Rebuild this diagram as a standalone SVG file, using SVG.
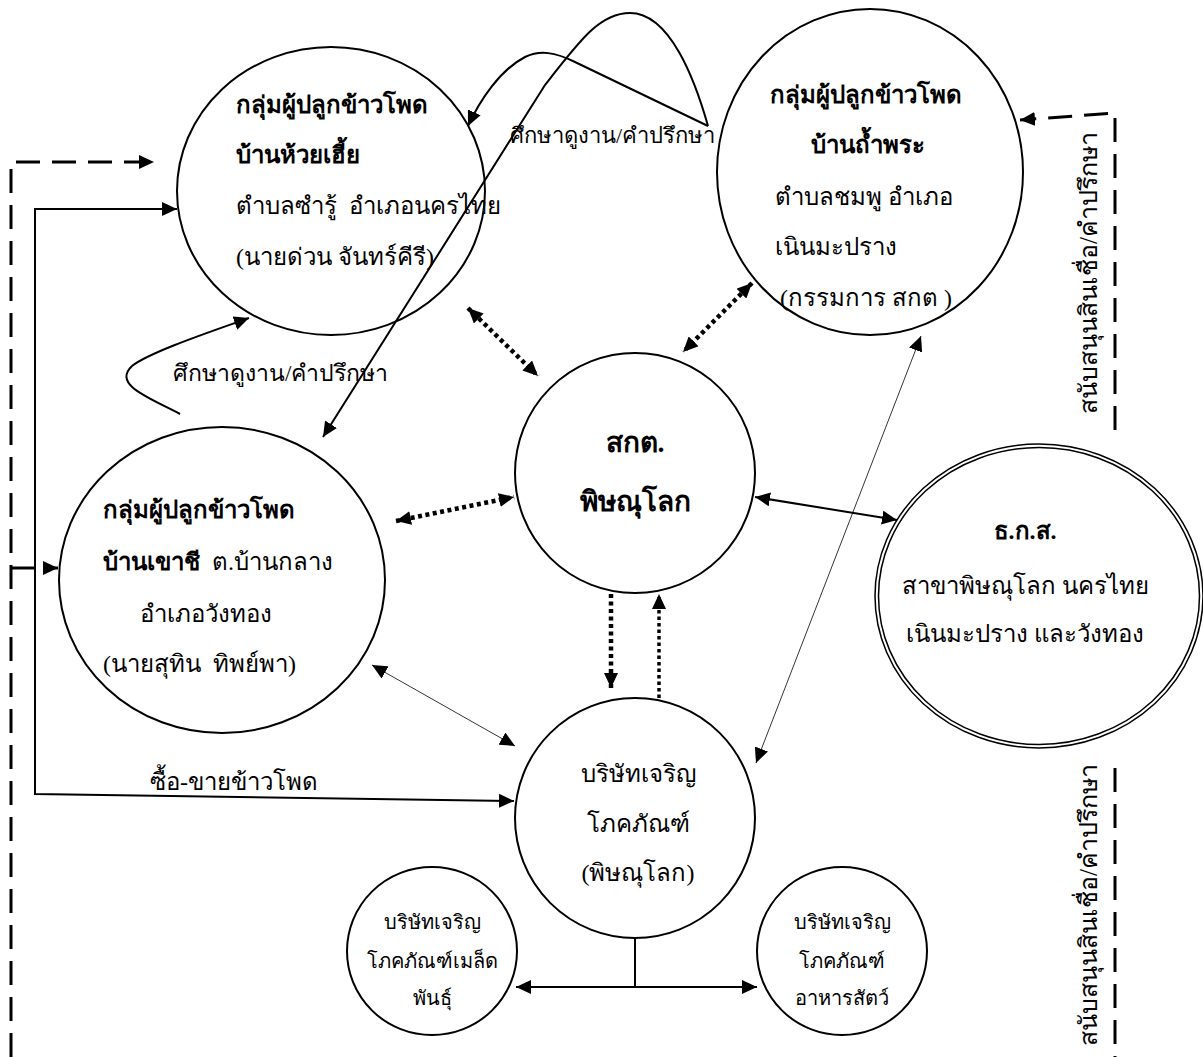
<svg xmlns="http://www.w3.org/2000/svg" width="1203" height="1057" viewBox="0 0 1203 1057">
<style>
.n{fill:none;stroke:#000;stroke-width:2}
.t{font-family:"Liberation Serif",serif;font-size:24px;fill:#000}
.b{font-weight:bold}
.s{font-size:20px}
.c{text-anchor:middle}
.ln{fill:none;stroke:#000;stroke-width:2}
.thin{fill:none;stroke:#000;stroke-width:0.8}
.dot{fill:none;stroke:#000;stroke-width:4.5;stroke-dasharray:4 3.5}
.dot2{fill:none;stroke:#000;stroke-width:3.5;stroke-dasharray:3.5 3}
.dash{fill:none;stroke:#000;stroke-width:3;stroke-dasharray:24 12}
</style>
<defs>
<marker id="ah" viewBox="0 0 15 14" refX="15" refY="7" markerWidth="15" markerHeight="14" markerUnits="userSpaceOnUse" orient="auto-start-reverse">
<path d="M0,0 L15,7 L0,14 z" fill="#000"/>
</marker>
</defs>
<rect width="1203" height="1057" fill="#fff"/>

<g id="n1">
<ellipse class="n" cx="331" cy="191" rx="154" ry="144"/>
<text class="t b" x="236" y="113">กลุ่มผู้ปลูกข้าวโพด</text>
<text class="t b" x="236" y="163">บ้านห้วยเฮี้ย</text>
<text class="t" x="236" y="214" xml:space="preserve">ตำบลซำรู้  อำเภอนครไทย</text>
<text class="t" x="236" y="265">(นายด่วน จันทร์คีรี)</text>
</g>

<g id="n2">
<ellipse class="n" cx="870" cy="172" rx="153" ry="163"/>
<text class="t b c" x="866" y="103">กลุ่มผู้ปลูกข้าวโพด</text>
<text class="t b c" x="868" y="153">บ้านถ้ำพระ</text>
<text class="t" x="775" y="205">ตำบลชมพู อำเภอ</text>
<text class="t" x="775" y="255">เนินมะปราง</text>
<text class="t" x="780" y="306">(กรรมการ สกต )</text>
</g>

<g id="n3">
<circle class="n" cx="635" cy="473" r="120"/>
<text class="t b c" x="635" y="452" style="font-size:28px">สกต.</text>
<text class="t b c" x="635" y="511" style="font-size:28px">พิษณุโลก</text>
</g>

<g id="n4">
<ellipse class="n" cx="222" cy="580" rx="163" ry="153"/>
<text class="t b" x="103" y="518">กลุ่มผู้ปลูกข้าวโพด</text>
<text class="t" x="103" y="570" xml:space="preserve"><tspan class="b">บ้านเขาชี</tspan>  ต.บ้านกลาง</text>
<text class="t" x="140" y="622">อำเภอวังทอง</text>
<text class="t" x="103" y="672" xml:space="preserve">(นายสุทิน  ทิพย์พา)</text>
</g>

<g id="n5">
<ellipse class="n" cx="1039" cy="596" rx="164" ry="152" style="stroke-width:1.5"/>
<ellipse class="n" cx="1039" cy="596" rx="160.5" ry="148.5" style="stroke-width:1.5"/>
<text class="t b c" x="1025" y="539">ธ.ก.ส.</text>
<text class="t c" x="1025" y="594">สาขาพิษณุโลก นครไทย</text>
<text class="t c" x="1025" y="642">เนินมะปราง และวังทอง</text>
</g>

<g id="n6">
<circle class="n" cx="635" cy="818" r="120"/>
<text class="t c" x="638" y="782">บริษัทเจริญ</text>
<text class="t c" x="638" y="832">โภคภัณฑ์</text>
<text class="t c" x="638" y="881">(พิษณุโลก)</text>
</g>

<g id="n7">
<ellipse class="n" cx="432" cy="951" rx="85" ry="84"/>
<text class="t s c" x="432" y="929">บริษัทเจริญ</text>
<text class="t s c" x="432" y="968">โภคภัณฑ์เมล็ด</text>
<text class="t s c" x="432" y="1005">พันธุ์</text>
</g>

<g id="n8">
<ellipse class="n" cx="842" cy="951" rx="85" ry="84"/>
<text class="t s c" x="842" y="929">บริษัทเจริญ</text>
<text class="t s c" x="842" y="968">โภคภัณฑ์</text>
<text class="t s c" x="842" y="1005">อาหารสัตว์</text>
</g>

<g id="connectors">
<path class="dot" d="M468,308 L538,376" marker-start="url(#ah)" marker-end="url(#ah)"/>
<path class="dot" d="M752,283 L683,352" marker-start="url(#ah)" marker-end="url(#ah)"/>
<path class="dot" d="M396,521 L514,497" marker-start="url(#ah)" marker-end="url(#ah)"/>
<path class="dot" d="M611,594 L611,688" marker-end="url(#ah)"/>
<path class="dot2" d="M659,698 L659,594" marker-end="url(#ah)"/>
<path class="ln" d="M755,497 L897,520" marker-start="url(#ah)" marker-end="url(#ah)"/>
<path class="thin" d="M372,665 L515,746" marker-start="url(#ah)" marker-end="url(#ah)"/>
<path class="thin" d="M921,336 L756,763" marker-start="url(#ah)" marker-end="url(#ah)"/>
<path class="dash" d="M11,1057 L11,162 L154,162" marker-end="url(#ah)"/>
<path class="dash" d="M11,568 L58,568" marker-end="url(#ah)"/>
<path class="ln" d="M177,209 L35,209 L35,794 L514,801" marker-start="url(#ah)" marker-end="url(#ah)"/>
<path class="dash" d="M1115,430 L1115,113 L1020,120" marker-end="url(#ah)"/>
<path class="dash" d="M1115,768 L1115,1057"/>
<path class="ln" d="M635,938 L635,987"/>
<path class="ln" d="M516,987 L757,987" marker-start="url(#ah)" marker-end="url(#ah)"/>
<path class="ln" d="M180,414 C150,398 112,385 132,366 C150,352 210,332 249,318" marker-end="url(#ah)"/>
<path class="ln" d="M708,126 L575,62 C555,52 540,50 525,57 C500,70 480,100 468,126" marker-end="url(#ah)"/>
<path class="ln" d="M708,126 C695,80 670,13 630,13 C600,13 580,40 545,85 L323,437" marker-end="url(#ah)"/>
<text class="t" x="510" y="143" style="font-size:22px">ศึกษาดูงาน/คำปรึกษา</text>
<text class="t" x="173" y="381" style="font-size:23px">ศึกษาดูงาน/คำปรึกษา</text>
<text class="t" x="150" y="790">ซื้อ-ขายข้าวโพด</text>
<text class="t c" transform="translate(1097,273) rotate(-90)" style="font-size:25px">สนับสนุนสินเชื่อ/คำปรึกษา</text>
<text class="t c" transform="translate(1097,905) rotate(-90)" style="font-size:25px">สนับสนุนสินเชื่อ/คำปรึกษา</text>
</g>
</svg>
